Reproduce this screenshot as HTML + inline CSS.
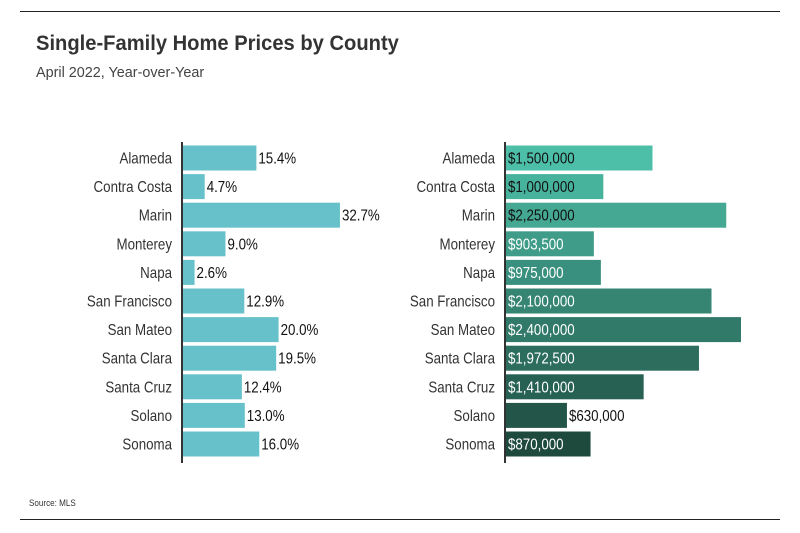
<!DOCTYPE html>
<html><head><meta charset="utf-8"><style>
body{margin:0;background:#fff;}
svg{display:block;font-family:"Liberation Sans",sans-serif;}
</style></head><body>
<svg width="800" height="533" viewBox="0 0 800 533">
<line x1="20" y1="11.5" x2="780" y2="11.5" stroke="#222"/>
<line x1="20" y1="519.5" x2="780" y2="519.5" stroke="#222"/>
<text transform="translate(36,50) scale(0.96,1)" font-size="21" font-weight="bold" fill="#333">Single-Family Home Prices by County</text>
<text transform="translate(36,77) scale(0.96,1)" font-size="15" fill="#444">April 2022, Year-over-Year</text>
<text transform="translate(29,506) scale(0.9,1)" font-size="9" fill="#333">Source: MLS</text>
<g id="left"></g>
<g id="right"></g>
</svg>
<script>
const counties=["Alameda","Contra Costa","Marin","Monterey","Napa","San Francisco","San Mateo","Santa Clara","Santa Cruz","Solano","Sonoma"];
const yoyValues=[15.4,4.7,32.7,9.0,2.6,12.9,20.0,19.5,12.4,13.0,16.0];
const yoyLabels=["15.4%","4.7%","32.7%","9.0%","2.6%","12.9%","20.0%","19.5%","12.4%","13.0%","16.0%"];
const priceValues=[1500000,1000000,2250000,903500,975000,2100000,2400000,1972500,1410000,630000,870000];
const priceLabels=["$1,500,000","$1,000,000","$2,250,000","$903,500","$975,000","$2,100,000","$2,400,000","$1,972,500","$1,410,000","$630,000","$870,000"];
const NS="http://www.w3.org/2000/svg";
const rowY=i=>158+i*28.6;
const xL=v=>v*4.83;
const xR=v=>v*236/2400000;
function mk(tag,attrs,parent){const e=document.createElementNS(NS,tag);for(const k in attrs)e.setAttribute(k,attrs[k]);parent.appendChild(e);return e;}
function lerp(a,b,t){return Math.round(a+(b-a)*t);}
function color(i){const t=i/10;return `rgb(${lerp(77,30,t)},${lerp(191,74,t)},${lerp(168,62,t)})`;}
function txt(parent,x,y,s,anchor,fill){const t=mk('text',{transform:`translate(${x},${y}) scale(0.86,1)`,'font-size':'15.5','text-anchor':anchor,fill:fill},parent);t.textContent=s;return t;}
const L=document.getElementById('left'),R=document.getElementById('right');
counties.forEach((c,i)=>{
  const cy=rowY(i);
  const b=mk('rect',{x:182,y:cy-12.5,width:xL(yoyValues[i]),height:25,fill:'#67c1cb'},L);
  
  
  const cl=txt(L,172,cy+5.5,c,'end','#333');
  
  
  const vl=txt(L,182+xL(yoyValues[i])+2,cy+5.5,yoyLabels[i],'start','#111');
  
  
  const w=xR(priceValues[i]);
  const rb=mk('rect',{x:505,y:cy-12.5,width:w,height:25,fill:color(i)},R);
  
  
  const cr=txt(R,495,cy+5.5,c,'end','#333');
  
  
  const labW=priceLabels[i].length*7.2;
  const inside=w>labW+6;
  const fill=inside?(i<3?'#111':'#fff'):'#111';
  const pl=txt(R,inside?508:505+w+2,cy+5.5,priceLabels[i],'start',fill);
  
  
});
const a1=mk('line',{x1:182,y1:142,x2:182,y2:463,stroke:'#333','stroke-width':2},L);


const a2=mk('line',{x1:505,y1:142,x2:505,y2:463,stroke:'#333','stroke-width':2},R);


</script>
</body></html>
